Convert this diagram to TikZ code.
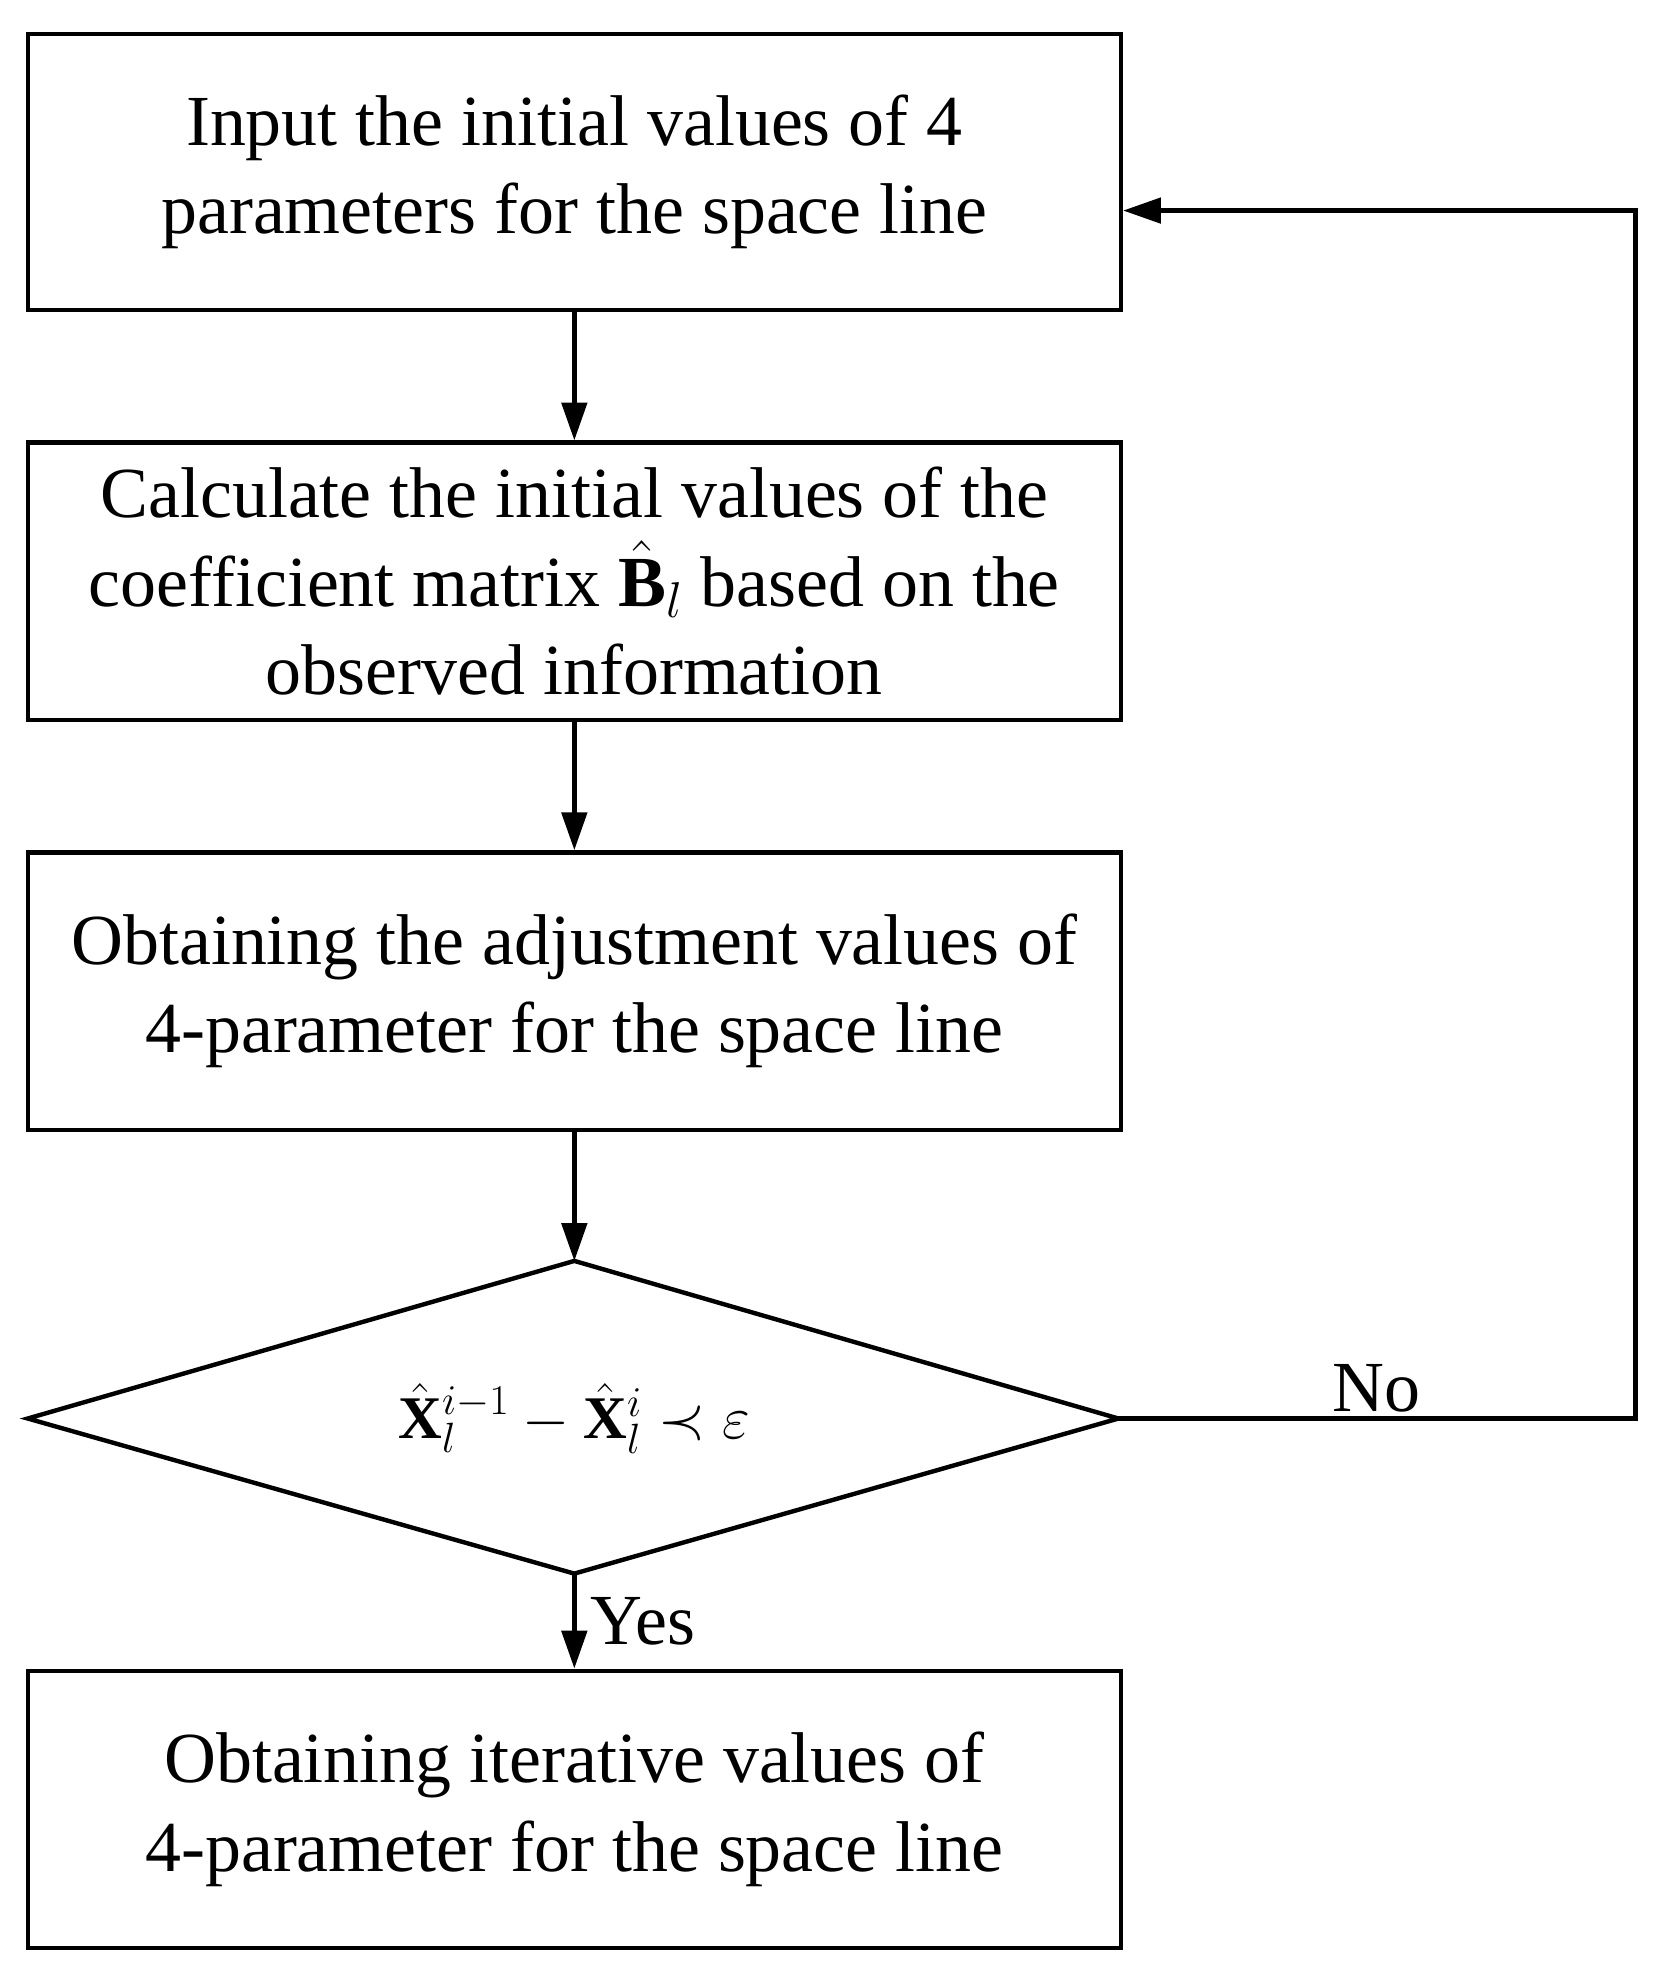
\RequirePackage{fix-cm}
\documentclass[tikz,border=0pt]{standalone}
\usepackage{fontspec}
\setmainfont{Liberation Serif}
\usepackage{amsmath}
\usetikzlibrary{arrows.meta}
\begin{document}
\begin{tikzpicture}[x=1pt,y=-1pt,
  boxst/.style={draw,line width=3.5pt,minimum width=867pt,align=center,font=\fontsize{57}{70}\selectfont,inner sep=0pt},
  arr/.style={line width=3.5pt,-{Triangle[length=30pt,width=20pt]}}]
\useasboundingbox (0,0) rectangle (1330,1560);
\node[boxst,minimum height=219pt] (a) at (455.5,136.5) {Input the initial values of 4\\parameters for the space line};
\node[boxst,minimum height=220pt] (b) at (455.5,461) {Calculate the initial values of the\\coefficient matrix $\hat{\mathbf{B}}_l$ based on the\\observed information};
\node[boxst,minimum height=220pt] (c) at (455.5,786) {Obtaining the adjustment values of\\4-parameter for the space line};
\coordinate (dt) at (455.5,1000);
\coordinate (dr) at (887,1125);
\coordinate (db) at (455.5,1248);
\coordinate (dl) at (22,1125);
\draw[line width=3.5pt,line join=miter] (dt) -- (dr) -- (db) -- (dl) -- cycle;
\node[font=\fontsize{48}{60}\selectfont] (d) at (455.5,1125) {$\hat{\mathbf{X}}_l^{i-1}-\hat{\mathbf{X}}_l^{i}\prec\varepsilon$};
\node[boxst,minimum height=220pt] (e) at (455.5,1435) {Obtaining iterative values of\\4-parameter for the space line};
\draw[arr] (a.south) -- (b.north);
\draw[arr] (b.south) -- (c.north);
\draw[arr] (c.south) -- (dt);
\draw[arr] (db) -- node[right,font=\fontsize{57}{60}\selectfont,xshift=8pt]{Yes} (e.north);
\coordinate (r1) at (1297,1125);
\coordinate (r2) at (1297,167);
\draw[arr] (dr) -- node[above,pos=0.5,font=\fontsize{57}{60}\selectfont]{No} (r1) -- (r2) -- (a.east |- r2);
\end{tikzpicture}
\end{document}
